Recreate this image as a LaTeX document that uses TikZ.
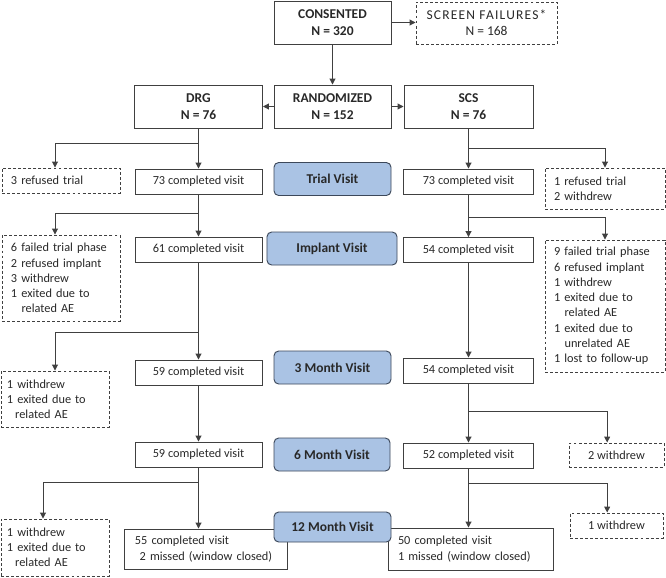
\documentclass[tikz,border=0pt]{standalone}
\usepackage{fontspec}
\setmainfont{Carlito}
\usetikzlibrary{arrows.meta}
\definecolor{linegray}{RGB}{64,64,64}
\definecolor{textgray}{RGB}{40,40,40}
\definecolor{visitblue}{RGB}{170,195,228}
\definecolor{visitedge}{RGB}{60,72,90}
\tikzset{
  headbox/.style={draw=linegray, line width=0.8pt, align=center, font=\fontsize{11.5}{14}\selectfont\bfseries, minimum height=1.29cm},
  countbox/.style={draw=linegray, line width=0.8pt, minimum height=0.75cm},
  visitbox/.style={draw=visitedge, fill=visitblue, line width=0.8pt, rounded corners=4pt, font=\fontsize{11.5}{14}\selectfont\bfseries, minimum width=3.51cm, minimum height=0.99cm},
  dropbox/.style={draw=linegray, line width=0.8pt, dash pattern=on 2.5pt off 1.8pt, align=left, inner xsep=0.27cm},
  flow/.style={draw=linegray, line width=0.8pt, -{Triangle[length=5pt,width=5pt]}},
}
\begin{document}
\begin{tikzpicture}[x=0.03cm, y=-0.03cm, every node/.style={text=textgray, font=\fontsize{10.5}{13}\selectfont}]
\useasboundingbox (0,0) rectangle (666,577);
\node[headbox, minimum width=3.51cm](consented) at (332.5,22.5) {CONSENTED\\N = 320};
\node[dropbox, align=center, font=\fontsize{11.5}{14}\selectfont, minimum width=4.23cm, minimum height=1.26cm](screen) at (486.5,23) {{\addfontfeature{LetterSpace=9}SCREEN FAILURES*}\\N = 168};
\node[headbox, minimum width=3.84cm](drg) at (198.5,106.5) {DRG\\N = 76};
\node[headbox, minimum width=3.51cm](randomized) at (332.5,106.5) {RANDOMIZED\\N = 152};
\node[headbox, minimum width=3.87cm](scs) at (468.5,106.5) {SCS\\N = 76};
%
\node[dropbox, text width=3.0cm, minimum height=0.75cm](trialL) at (61,180.5) {3 refused trial};
\node[countbox, minimum width=3.81cm](trialD) at (198.5,181.5) {73 completed visit};
\node[visitbox](trialV) at (332.5,179) {Trial Visit};
\node[countbox, minimum width=3.9cm](trialS) at (468.5,181.5) {73 completed visit};
\node[dropbox, text width=3.06cm, minimum height=1.23cm](trialR) at (605,188.5) {1 refused trial\\2 withdrew};
%
\node[dropbox, text width=3.0cm, minimum height=2.58cm](implantL) at (61,278) {6 failed trial phase\\2 refused implant\\3 withdrew\\1 exited due to\\\hspace*{9pt}related AE};
\node[countbox, minimum width=3.81cm](implantD) at (198.5,249.5) {61 completed visit};
\node[visitbox, minimum width=3.9cm](implantV) at (332,248.5) {Implant Visit};
\node[countbox, minimum width=3.9cm](implantS) at (468.5,250) {54 completed visit};
\node[dropbox, text width=3.06cm, minimum height=3.96cm](implantR) at (605,306) {9 failed trial phase\\6 refused implant\\1 withdrew\\1 exited due to\\\hspace*{9pt}related AE\\1 exited due to\\\hspace*{9pt}unrelated AE\\1 lost to follow-up};
%
\node[dropbox, inner xsep=0.18cm, text width=2.88cm, minimum height=1.68cm](threeL) at (55,399) {1 withdrew\\1 exited due to\\\hspace*{7pt}related AE};
\node[countbox, minimum width=3.81cm](threeD) at (198.5,372.5) {59 completed visit};
\node[visitbox](threeV) at (332.5,367.5) {3 Month Visit};
\node[countbox, minimum width=3.9cm](threeS) at (468.5,370.5) {54 completed visit};
%
\node[countbox, minimum width=3.81cm](sixD) at (198.5,454.5) {59 completed visit};
\node[visitbox, minimum width=3.48cm](sixV) at (332,454.5) {6 Month Visit};
\node[countbox, minimum width=3.9cm](sixS) at (468.5,455.5) {52 completed visit};
\node[dropbox, align=center, minimum width=2.85cm, minimum height=0.72cm](sixR) at (616.5,455) {2 withdrew};
%
\node[dropbox, inner xsep=0.18cm, text width=2.88cm, minimum height=1.71cm](twelveL) at (55,547.5) {1 withdrew\\1 exited due to\\\hspace*{7pt}related AE};
\node[countbox, align=left, inner xsep=0.33cm, text width=4.23cm, minimum height=1.2cm](twelveD) at (205.5,549) {55 completed visit\\\hspace*{4pt}2 missed (window closed)};
\node[countbox, align=left, inner xsep=0.3cm, text width=4.35cm, minimum height=1.26cm](twelveS) at (470.5,549) {50 completed visit\\1 missed (window closed)};
\node[visitbox, minimum height=0.9cm](twelveV) at (332.5,527) {12 Month Visit};
\node[dropbox, align=center, minimum width=2.79cm, minimum height=0.75cm](twelveR) at (616.5,525.5) {1 withdrew};
%
\draw[flow](consented) -- (randomized);
\draw[flow](consented.east) -- (consented.east -| screen.west);
\draw[flow](randomized) -- (drg);
\draw[flow](randomized) -- (scs);
%
\coordinate(jD1) at (198.5,143);
\coordinate(jD2) at (198.5,213);
\coordinate(jD3) at (198.5,332);
\coordinate(jD4) at (198.5,482);
\draw[flow](drg) -- (trialD);
\draw[flow](jD1) -| ([xshift=-0.18cm]trialL.north);
\draw[flow](trialD) -- (implantD);
\draw[flow](jD2) -| ([xshift=-0.18cm]implantL.north);
\draw[flow](implantD) -- (threeD);
\draw[flow](jD3) -| (threeL.north);
\draw[flow](threeD) -- (sixD);
\draw[flow](sixD.south) -- (sixD.south |- twelveD.north);
\draw[flow](jD4) -| ([xshift=-0.36cm]twelveL.north);
%
\coordinate(jS1) at (468.5,148);
\coordinate(jS2) at (468.5,217);
\coordinate(jS3) at (468.5,411);
\coordinate(jS4) at (468.5,483);
\draw[flow](scs) -- (trialS);
\draw[flow](jS1) -| (trialR.north);
\draw[flow](trialS) -- (implantS);
\draw[flow](jS2) -| (implantR.north);
\draw[flow](implantS) -- (threeS);
\draw[flow](threeS) -- (sixS);
\draw[flow](jS3) -| ([xshift=-0.28cm]sixR.north);
\draw[flow](sixS.south) -- (sixS.south |- twelveS.north);
\draw[flow](jS4) -| ([xshift=-0.28cm]twelveR.north);
\end{tikzpicture}
\end{document}
